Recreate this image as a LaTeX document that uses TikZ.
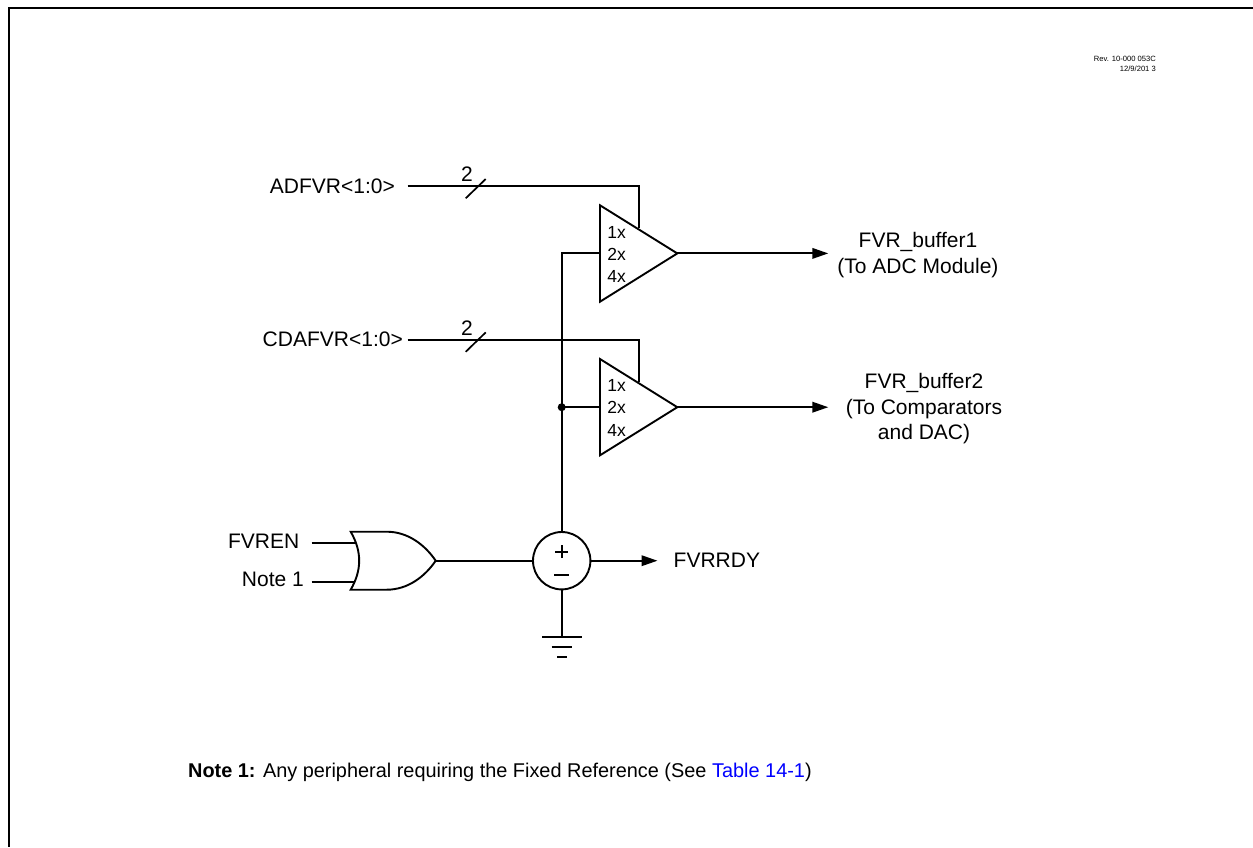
\documentclass[tikz,border=0pt]{standalone}
\usepackage{fontspec}
\setmainfont{Liberation Sans}
\usetikzlibrary{arrows.meta}
\tikzset{
  wire/.style={draw=black,line width=2pt,line join=miter},
  sym/.style={draw=black,line width=1.9pt,line join=miter,fill=white},
  arrowwire/.style={wire,-{Triangle[length=16pt,width=10.5pt]}},
  label/.style={inner sep=0pt,font=\fontsize{21}{25}\selectfont},
  gain/.style={inner sep=0pt,font=\fontsize{17.5}{20}\selectfont},
  multi/.style={inner sep=0pt,align=center,font=\fontsize{21}{25.5}\selectfont},
  dotnode/.style={circle,fill=black,inner sep=0pt,minimum size=8pt},
}
\begin{document}
\begin{tikzpicture}[x=1pt,y=-1pt]
\useasboundingbox (0,0) rectangle (1253,847);
\coordinate (fa) at (1253,8);
\coordinate (fb) at (9,8);
\coordinate (fc) at (9,847);
\draw[line width=2.2pt] (fa) -- (fb) -- (fc);
\node[inner sep=0pt,anchor=east,font=\fontsize{7.6}{9}\selectfont] (rev) at (1156,59) {Rev. 10-000 053C};
\node[inner sep=0pt,anchor=east,font=\fontsize{7.6}{9}\selectfont] (date) at (1156,69) {12/9/201 3};
% input labels
\node[label,anchor=east] (adl) at (395,186) {ADFVR<1:0>};
\node[label,anchor=east] (cdl) at (403,339.5) {CDAFVR<1:0>};
\coordinate (ads) at (407.5,186);
\coordinate (cds) at (407.5,340);
% buffer geometry
\coordinate (t1a) at (600,205.3);
\coordinate (t1b) at (600,301.7);
\coordinate (t1o) at (677.3,253.4);
\coordinate (t1c) at (600,253.4);
\coordinate (t1s) at (639,228);
\coordinate (t2a) at (600,359);
\coordinate (t2b) at (600,455.3);
\coordinate (t2o) at (677.3,407.2);
\coordinate (t2c) at (600,407.2);
\coordinate (t2s) at (639,382);
\coordinate (ad1) at (639,186);
\coordinate (cd1) at (639,340);
\coordinate (bus1) at (561.7,253.4);
\node[dotnode] (j) at (561.7,407.2) {};
% circle and lower part
\node[circle,draw=black,line width=1.9pt,fill=white,minimum size=57.4pt,inner sep=0pt] (cmp) at (561.7,560.7) {};
\node[inner sep=0pt,font=\fontsize{1}{1}\selectfont] (plus) at (561.7,551.7) {};
\node[inner sep=0pt,font=\fontsize{1}{1}\selectfont] (minus) at (561.7,575.2) {};
\coordinate (g1l) at (542.3,637.3);
\coordinate (g1r) at (581.7,637.3);
\coordinate (g1) at (561.7,637.3);
\coordinate (g2l) at (551.7,646.7);
\coordinate (g2r) at (572.3,646.7);
\coordinate (g3l) at (557.3,656.7);
\coordinate (g3r) at (566.7,656.7);
% wires
\draw[wire] (ads) -- (ad1) -- (t1s);
\draw[wire] (cds) -- (cd1) -- (t2s);
\draw[wire] (t1c) -- (bus1) -- (cmp.north);
\draw[wire] (j.center) -- (t2c);
\draw[wire] (cmp.south) -- (g1);
\draw[wire] (g1l) -- (g1r);
\draw[wire] (g2l) -- (g2r);
\draw[wire] (g3l) -- (g3r);
% bus slashes
\coordinate (s1a) at (465.7,198.3);
\coordinate (s1b) at (485.7,179);
\coordinate (s2a) at (465.7,351.8);
\coordinate (s2b) at (485.7,332.4);
\draw[wire,line width=1.7pt] (s1a) -- (s1b);
\draw[wire,line width=1.7pt] (s2a) -- (s2b);
\node[label] (n1) at (467,174) {2};
\node[label] (n2) at (467,328) {2};
% buffers
\draw[sym] (t1a) -- (t1o) -- (t1b) -- cycle;
\draw[sym] (t2a) -- (t2o) -- (t2b) -- cycle;
\node[gain] (a1) at (616.7,232) {1x};
\node[gain] (a2) at (616.7,254) {2x};
\node[gain] (a4) at (616.7,276.5) {4x};
\node[gain] (b1) at (616.7,385.5) {1x};
\node[gain] (b2) at (616.7,407.5) {2x};
\node[gain] (b4) at (616.7,430) {4x};
% outputs
\coordinate (o1) at (828.3,253.4);
\coordinate (o2) at (828.3,407.2);
\coordinate (o3) at (657.5,560.7);
\draw[arrowwire] (t1o) -- (o1);
\draw[arrowwire] (t2o) -- (o2);
\draw[arrowwire] (cmp.east) -- (o3);
\node[multi] (ob1) at (918,255) {FVR\_buffer1\\(To ADC Module)};
\node[multi] (ob2) at (924,409) {FVR\_buffer2\\(To Comparators\\and DAC)};
\node[label,anchor=west] (ordy) at (673.5,560.7) {FVRRDY};
% plus / minus
\draw[wire,line width=1.8pt] ([xshift=-6.5pt]plus.center) -- ([xshift=6.5pt]plus.center);
\draw[wire,line width=1.8pt] ([yshift=-6.5pt]plus.center) -- ([yshift=6.5pt]plus.center);
\draw[wire,line width=1.6pt] ([xshift=-7.5pt]minus.center) -- ([xshift=7.5pt]minus.center);
% OR gate
\coordinate (ort) at (350.7,531.7);
\coordinate (orb) at (350.7,589.7);
\coordinate (ortf) at (386.7,531.7);
\coordinate (orbf) at (386.7,589.7);
\coordinate (oro) at (435.7,560.7);
\coordinate (i1s) at (311.7,543.3);
\coordinate (i1e) at (355,543.3);
\coordinate (i2s) at (311.7,581.7);
\coordinate (i2e) at (355,581.7);
\draw[wire] (i1s) -- (i1e);
\draw[wire] (i2s) -- (i2e);
\draw[wire] (oro) -- (cmp.west);
\draw[sym,fill=none] (ort) -- (ortf) .. controls (408,531.7) and (425,545) .. (oro) .. controls (425,576.4) and (408,589.7) .. (orbf) -- (orb) .. controls (362,570) and (362,551.4) .. (ort) -- cycle;
\node[label,anchor=east] (fvren) at (299.5,541.7) {FVREN};
\node[label,anchor=east] (note1) at (304,579) {Note 1};
% footnote
\node[inner sep=0pt,anchor=west,font=\fontsize{19.9}{24}\selectfont] (fn) at (188,772) {\textbf{Note 1:} Any peripheral requiring the Fixed Reference (See \textcolor[RGB]{0,0,255}{Table 14-1})};
\end{tikzpicture}
\end{document}
